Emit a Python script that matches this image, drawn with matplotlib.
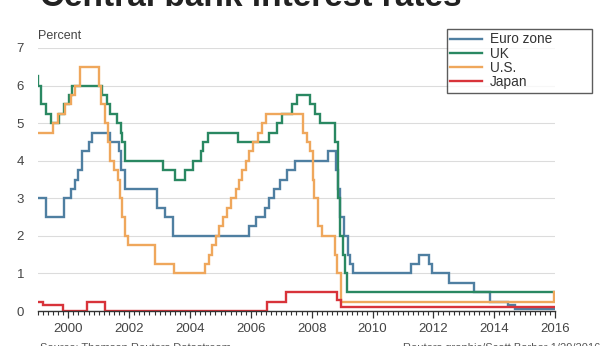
import matplotlib
matplotlib.use("Agg")
import matplotlib.pyplot as plt
import matplotlib.dates as mdates
import pandas as pd

# policy rates, step changes (date the rate took effect)
euro_dates = ['1999-01-01', '1999-04-09', '1999-11-05', '2000-02-04', '2000-03-17', '2000-04-28',
              '2000-06-09', '2000-09-06', '2000-10-06', '2001-05-11', '2001-08-31', '2001-09-18',
              '2001-11-09', '2002-12-06', '2003-03-07', '2003-06-06', '2005-12-06', '2006-03-08',
              '2006-06-15', '2006-08-09', '2006-10-11', '2006-12-13', '2007-03-14', '2007-06-13',
              '2008-07-09', '2008-10-15', '2008-11-12', '2008-12-10', '2009-01-21', '2009-03-11',
              '2009-04-08', '2009-05-13', '2011-04-13', '2011-07-13', '2011-11-09', '2011-12-14',
              '2012-07-11', '2013-05-08', '2013-11-13', '2014-06-11', '2014-09-10', '2016-01-01']
euro_rates = [3.0, 2.5, 3.0, 3.25, 3.5, 3.75, 4.25, 4.5, 4.75, 4.5, 4.25, 3.75,
              3.25, 2.75, 2.5, 2.0, 2.25, 2.5, 2.75, 3.0, 3.25, 3.5, 3.75, 4.0,
              4.25, 3.75, 3.25, 2.5, 2.0, 1.5, 1.25, 1.0, 1.25, 1.5, 1.25, 1.0,
              0.75, 0.5, 0.25, 0.15, 0.05, 0.05]

uk_dates = ['1999-01-01', '1999-01-07', '1999-02-04', '1999-04-08', '1999-06-10', '1999-09-08',
            '1999-11-04', '2000-01-13', '2000-02-10', '2001-02-08', '2001-04-05', '2001-05-10',
            '2001-08-02', '2001-09-18', '2001-10-04', '2001-11-08', '2003-02-06', '2003-07-10',
            '2003-11-06', '2004-02-05', '2004-05-06', '2004-06-10', '2004-08-05', '2005-08-04',
            '2006-08-03', '2006-11-09', '2007-01-11', '2007-05-10', '2007-07-05', '2007-12-06',
            '2008-02-07', '2008-04-10', '2008-10-08', '2008-11-06', '2008-12-04', '2009-01-08',
            '2009-02-05', '2009-03-05', '2016-01-01']
uk_rates = [6.25, 6.0, 5.5, 5.25, 5.0, 5.25, 5.5, 5.75, 6.0, 5.75, 5.5, 5.25,
            5.0, 4.75, 4.5, 4.0, 3.75, 3.5, 3.75, 4.0, 4.25, 4.5, 4.75, 4.5,
            4.75, 5.0, 5.25, 5.5, 5.75, 5.5, 5.25, 5.0, 4.5, 3.0, 2.0, 1.5,
            1.0, 0.5, 0.5]

us_dates = ['1999-01-01', '1999-06-30', '1999-08-24', '1999-11-16', '2000-02-02', '2000-03-21',
            '2000-05-16', '2001-01-03', '2001-01-31', '2001-03-20', '2001-04-18', '2001-05-15',
            '2001-06-27', '2001-08-21', '2001-09-17', '2001-10-02', '2001-11-06', '2001-12-11',
            '2002-11-06', '2003-06-25', '2004-06-30', '2004-08-10', '2004-09-21', '2004-11-10',
            '2004-12-14', '2005-02-02', '2005-03-22', '2005-05-03', '2005-06-30', '2005-08-09',
            '2005-09-20', '2005-11-01', '2005-12-13', '2006-01-31', '2006-03-28', '2006-05-10',
            '2006-06-29', '2007-09-18', '2007-10-31', '2007-12-11', '2008-01-22', '2008-01-30',
            '2008-03-18', '2008-04-30', '2008-10-08', '2008-10-29', '2008-12-16', '2015-12-16',
            '2016-01-01']
us_rates = [4.75, 5.0, 5.25, 5.5, 5.75, 6.0, 6.5, 6.0, 5.5, 5.0, 4.5, 4.0,
            3.75, 3.5, 3.0, 2.5, 2.0, 1.75, 1.25, 1.0, 1.25, 1.5, 1.75, 2.0,
            2.25, 2.5, 2.75, 3.0, 3.25, 3.5, 3.75, 4.0, 4.25, 4.5, 4.75, 5.0,
            5.25, 4.75, 4.5, 4.25, 3.5, 3.0, 2.25, 2.0, 1.5, 1.0, 0.25, 0.5,
            0.5]

jp_dates = ['1999-01-01', '1999-03-01', '1999-10-30', '2000-08-11', '2001-03-19', '2006-07-14',
            '2007-02-21', '2008-10-31', '2008-12-19', '2016-01-01']
jp_rates = [0.25, 0.15, 0.0, 0.25, 0.0, 0.25, 0.5, 0.3, 0.1, 0.1]

series = [
    ('Euro zone', euro_dates, euro_rates, '#4f7fa1'),
    ('UK', uk_dates, uk_rates, '#2a8862'),
    ('U.S.', us_dates, us_rates, '#efa75c'),
    ('Japan', jp_dates, jp_rates, '#d8333a'),
]

plt.rcParams['font.family'] = ['Liberation Sans', 'DejaVu Sans']

fig = plt.figure(figsize=(6.16, 3.46), dpi=100)
ax = fig.add_axes([38/616, 1-311/346, (555-38)/616, (311-48)/346])

for name, d, r, c in series:
    ax.plot(pd.to_datetime(d), r, drawstyle='steps-post', color=c, lw=1.7,
            label=name, solid_joinstyle='miter')

ax.set_xlim(pd.Timestamp('1999-01-01'), pd.Timestamp('2016-01-01'))
ax.set_ylim(0, 7)
ax.set_yticks(range(0, 8))
ax.yaxis.grid(True, color='#dcdcdc', lw=0.8)
ax.set_axisbelow(True)
ax.tick_params(axis='y', length=0, pad=10, labelsize=9.5, labelcolor='#444444')

ax.xaxis.set_major_locator(mdates.YearLocator(2))
ax.xaxis.set_major_formatter(mdates.DateFormatter('%Y'))
ax.xaxis.set_minor_locator(mdates.MonthLocator(bymonth=[1, 3, 5, 7, 9, 11]))
ax.tick_params(axis='x', which='major', length=5, width=0.9, color='#333333',
               labelsize=9.5, labelcolor='#444444', pad=4)
ax.tick_params(axis='x', which='minor', length=3, width=0.8, color='#333333')

for s in ['top', 'right', 'left']:
    ax.spines[s].set_visible(False)
ax.spines['bottom'].set_color('#333333')
ax.spines['bottom'].set_linewidth(1.0)

fig.text(38/616, 1-36/346, 'Percent', fontsize=9, color='#444444', va='center')

# title, cut off by the top edge like in the original screenshot
fig.text(40/616, 1-6/346, 'Central bank interest rates', fontsize=24, fontweight='bold',
         color='#222222', va='baseline')

fig.text(40/616, 1-343/346, 'Source: Thomson Reuters Datastream', fontsize=8,
         color='#555555', va='top')
fig.text(600/616, 1-343/346, 'Reuters graphic/Scott Barber 1/29/2016', fontsize=8,
         color='#555555', va='top', ha='right')

leg = fig.legend(loc='upper left', bbox_to_anchor=(447/616, 1-94/346, 145/616, 65/346),
                 mode='expand', frameon=True, fancybox=False, fontsize=9.8,
                 handlelength=2.3, handletextpad=0.6, borderpad=0.25,
                 labelspacing=0.02, borderaxespad=0)
leg.get_frame().set_edgecolor('#333333')
leg.get_frame().set_linewidth(1.0)
for t in leg.get_texts():
    t.set_color('#333333')

fig.savefig('out.png', dpi=100)
